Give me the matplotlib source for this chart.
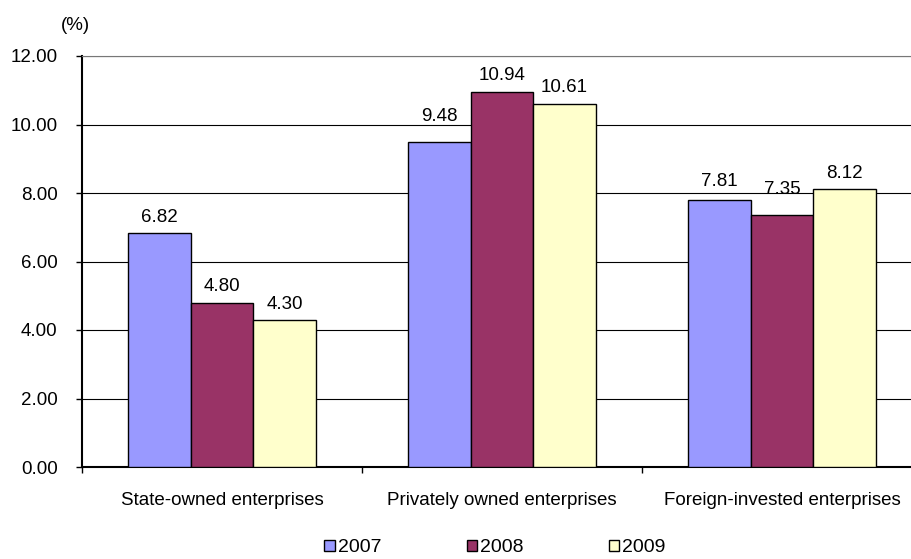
import matplotlib.pyplot as plt
import numpy as np

plt.rcParams['font.family'] = ['Liberation Sans', 'DejaVu Sans']

categories = ["State-owned enterprises", "Privately owned enterprises", "Foreign-invested enterprises"]
years = ["2007", "2008", "2009"]
v2007 = [6.82, 9.48, 7.81]
v2008 = [4.80, 10.94, 7.35]
v2009 = [4.30, 10.61, 8.12]
colors = ["#9999FF", "#993366", "#FFFFCC"]

fs = 13.5

fig = plt.figure(figsize=(9.12, 5.59), dpi=100)
ax = fig.add_axes([82 / 912, 1 - 467 / 559, 840 / 912, (467 - 56) / 559])

# label gap above bar in points (excel nudged a couple of them up)
gaps = [[8, 15, 10], [8.5, 8.5, 15.5], [8, 8.5, 8]]

x = np.arange(len(categories)) + 0.5
w = 0.223
for i, (vals, lab, c) in enumerate(zip([v2007, v2008, v2009], years, colors)):
    bars = ax.bar(x + (i - 1) * w, vals, w, color=c, edgecolor='black', linewidth=1, label=lab, zorder=3)
    for j, (b, v) in enumerate(zip(bars, vals)):
        ax.annotate(f"{v:.2f}", (b.get_x() + b.get_width() / 2, v), xytext=(0, gaps[i][j]),
                    textcoords='offset points', ha='center', va='baseline', fontsize=fs)

ax.set_xlim(0, 3)
ax.set_ylim(0, 12)
ax.set_yticks(np.arange(0, 12.1, 2))
ax.set_yticklabels([f"{t:.2f}" for t in np.arange(0, 12.1, 2)], fontsize=fs)
ax.set_xticks([0, 1, 2, 3])
ax.set_xticklabels([])
ax.set_xticks(x, minor=True)
ax.set_xticklabels(categories, minor=True, fontsize=fs)
ax.tick_params(axis='x', which='minor', length=0, pad=18)
ax.tick_params(axis='x', which='major', length=4.5, width=1, direction='out')
ax.tick_params(axis='y', length=4.5, width=1, direction='out', pad=13)
ax.yaxis.grid(True, color='black', linewidth=0.8, zorder=0)
ax.set_axisbelow(True)

ax.spines['top'].set_color('#777777')
ax.spines['right'].set_visible(False)
ax.spines['left'].set_linewidth(1.5)
ax.spines['bottom'].set_linewidth(1.5)

fig.text(75 / 912, 1 - 25 / 559, "(%)", ha='center', va='center', fontsize=fs)

fig.legend(loc='center', bbox_to_anchor=(495 / 912, 1 - 548 / 559), ncol=3, frameon=False,
           fontsize=14, handlelength=0.55, handleheight=0.55, handletextpad=0.15,
           columnspacing=4.37)

fig.savefig("out.png", dpi=100)
